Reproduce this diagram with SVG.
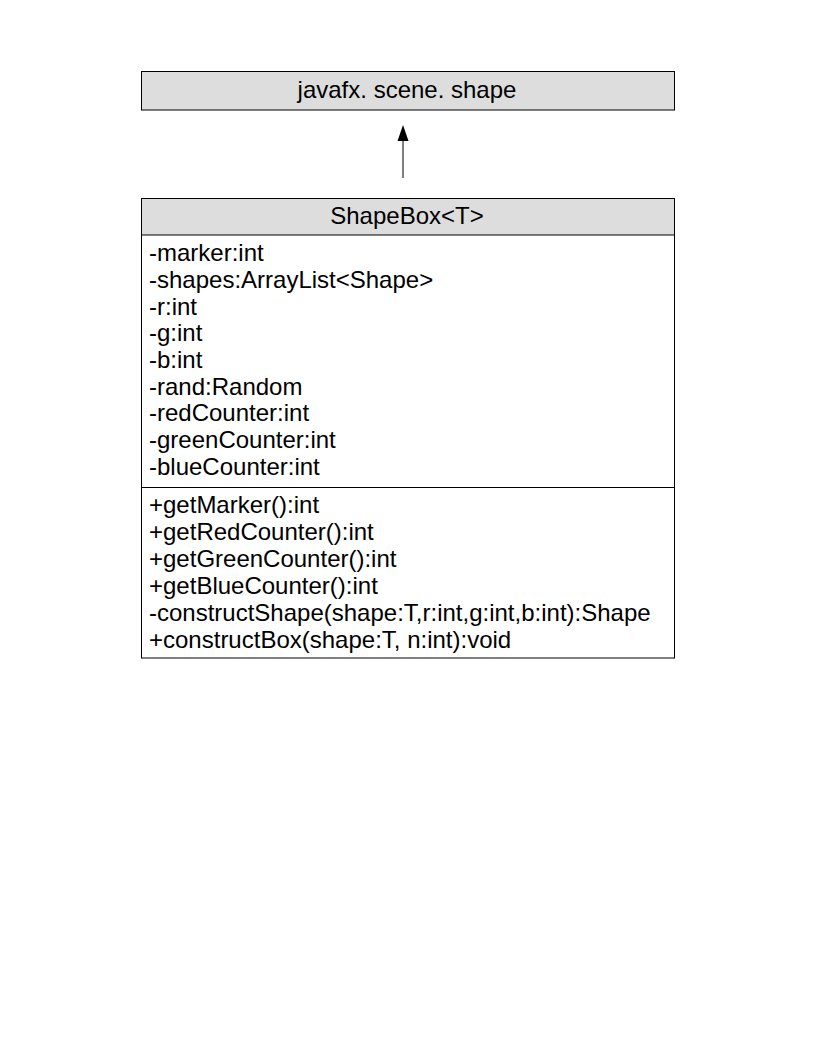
<svg xmlns="http://www.w3.org/2000/svg" width="816" height="1056" viewBox="0 0 816 1056">
<style>
.box{stroke:#000;stroke-width:1;}
.hdr{fill:#dddddd;}
.body{fill:#ffffff;}
text{font-family:"Liberation Sans",Arial,sans-serif;font-size:24px;fill:#000;}
.c{text-anchor:middle;}
</style>
<rect width="816" height="1056" fill="#ffffff"/>
<g id="javafx_scene_shape">
<rect class="box hdr" x="141.5" y="71.5" width="533" height="38.5"/>
<text class="c" x="407" y="98">javafx. scene. shape</text>
</g>
<g id="ShapeBox">
<rect class="box body" x="141.5" y="198.5" width="533" height="459.5"/>
<rect class="box hdr" x="141.5" y="198.5" width="533" height="36.5"/>
<line class="box" x1="141.5" y1="487.5" x2="674.5" y2="487.5"/>
<text class="c" x="407" y="224">ShapeBox&lt;T&gt;</text>
<text x="149" y="261">-marker:int</text>
<text x="149" y="288">-shapes:ArrayList&lt;Shape&gt;</text>
<text x="149" y="315">-r:int</text>
<text x="149" y="341">-g:int</text>
<text x="149" y="368">-b:int</text>
<text x="149" y="395">-rand:Random</text>
<text x="149" y="421">-redCounter:int</text>
<text x="149" y="448">-greenCounter:int</text>
<text x="149" y="475">-blueCounter:int</text>
<text x="149" y="513">+getMarker():int</text>
<text x="149" y="540">+getRedCounter():int</text>
<text x="149" y="567">+getGreenCounter():int</text>
<text x="149" y="594">+getBlueCounter():int</text>
<text x="149" y="621">-constructShape(shape:T,r:int,g:int,b:int):Shape</text>
<text x="149" y="648">+constructBox(shape:T, n:int):void</text>
</g>
<g id="connectors">
<line x1="403" y1="178" x2="403" y2="140" stroke="#000" stroke-width="1"/>
<polygon points="403,125 397.5,141 408.5,141" fill="#000"/>
</g>
</svg>
